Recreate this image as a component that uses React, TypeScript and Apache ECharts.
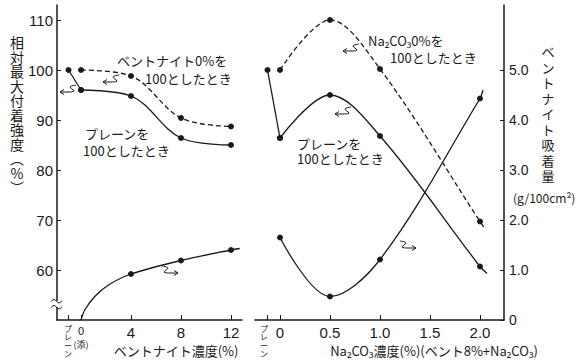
import React, { useEffect, useRef } from "react";
import * as echarts from "echarts";

// ---------- Left panel: bentonite concentration (%) ; -1 = plain ----------
const bentPlainX = [-1, 0];
const bentPlainY = [100, 96];
const bentRelPlainX = [0, 4, 8, 12];
const bentRelPlainY = [96, 94.8, 86.4, 85];
const bentRelZeroX = [0, 4, 8, 12];
const bentRelZeroY = [100, 98.8, 90.4, 88.7];
const bentAbsX = [0, 0.3, 1.1, 2.2, 4, 8, 12, 12.7];
const bentAbsY = [0, 0.2, 0.47, 0.7, 0.92, 1.19, 1.4, 1.43];
const bentAbsMark = [false, false, false, false, true, true, true, false];

// ---------- Right panel: Na2CO3 concentration (%) ; -0.125 = plain ----------
const naPlainX = [-0.125, 0];
const naPlainY = [100, 86.4];
const naRelPlainX = [0, 0.5, 1.0, 2.0, 2.07];
const naRelPlainY = [86.4, 95, 86.8, 60.7, 59.3];
const naRelPlainMark = [true, true, true, true, false];
const naRelZeroX = [0, 0.5, 1.0, 2.0, 2.05];
const naRelZeroY = [100, 110, 100.2, 69.7, 68.2];
const naRelZeroMark = [true, true, true, true, false];
const naAbsX = [0, 0.5, 1.0, 2.0, 2.03];
const naAbsY = [1.65, 0.47, 1.21, 4.43, 4.6];
const naAbsMark = [true, true, true, true, false];

// ---------- ticks ----------
const leftXTicks = [-1, 0, 4, 8, 12];
const rightXTicks = [-0.125, 0, 0.5, 1.0, 1.5, 2.0];
const rightXTickLabels = ["", "0", "0.5", "1.0", "1.5", "2.0"];
const strengthTicks = [60, 70, 80, 90, 100, 110];
const absorbTicks = [0, 1, 2, 3, 4, 5];
const absorbTickLabels = ["0", "1.0", "2.0", "3.0", "4.0", "5.0"];

const CJK = '"Noto Sans CJK JP", "Noto Sans", sans-serif';
const NUM = '"Liberation Sans", "DejaVu Sans", sans-serif';
const INK = "#1a1a1a";

function pts(xs: number[], ys: number[], marks?: boolean[]) {
  return xs.map((x, i) => ({
    value: [x, ys[i]],
    symbol: marks ? (marks[i] ? "circle" : "none") : "circle",
  }));
}

function lineSeries(xi: number, yi: number, data: any[], smooth: number | boolean, dashed = false) {
  return {
    type: "line",
    xAxisIndex: xi,
    yAxisIndex: yi,
    data,
    smooth,
    symbol: "circle",
    symbolSize: 6,
    showSymbol: true,
    lineStyle: { color: INK, width: 1.3, type: dashed ? [5, 3] : "solid" },
    itemStyle: { color: INK },
    z: 3,
  };
}

// squiggle arrow annotation (axis pointer)
function arrow(x: number, y: number, dir: "left" | "right") {
  const s = dir === "left" ? 1 : -1;
  const ls = { stroke: INK, lineWidth: 1, fill: null };
  return {
    type: "group",
    x,
    y,
    children: [
      { type: "polyline", shape: { points: [[0, 0], [s * 9, 0]] }, style: ls },
      { type: "polyline", shape: { points: [[s * 4, -2.5], [0, 0], [s * 4, 2.5]] }, style: ls },
      {
        type: "polyline",
        shape: { points: [[s * 9, 0], [s * 14, -1], [s * 10, -5], [s * 16, -7]], smooth: 0.4 },
        style: ls,
      },
    ],
  };
}

function vtext(text: string, x: number, y: number, size: number, lh: number) {
  return {
    type: "text",
    x,
    y,
    style: {
      text: Array.from(text).join("\n"),
      font: `${size}px ${CJK}`,
      fill: INK,
      textAlign: "center",
      textVerticalAlign: "top",
      lineHeight: lh,
    },
  };
}

function htext(text: string, x: number, y: number, size = 13, align = "left") {
  return {
    type: "text",
    x,
    y,
    style: {
      text,
      font: `${size}px ${CJK}`,
      fill: INK,
      textAlign: align,
      textVerticalAlign: "middle",
    },
  };
}

export default function App() {
  const ref = useRef<HTMLDivElement>(null);
  useEffect(() => {
    if (!ref.current) return;
    const chart = echarts.init(ref.current, undefined, { renderer: "svg" });
    const axisLine = { show: true, onZero: false, lineStyle: { color: INK, width: 1.5 } };
    const option: any = {
      animation: false,
      backgroundColor: "#fff",
      grid: [
        { left: 57, top: 5, width: 185, height: 315 },
        { left: 255, top: 5, width: 249, height: 315 },
      ],
      xAxis: [
        {
          type: "value",
          gridIndex: 0,
          min: -1.92,
          max: 12.88,
          axisLine,
          splitLine: { show: false },
          axisTick: { show: true, inside: true, length: 5, customValues: leftXTicks, lineStyle: { color: INK } },
          axisLabel: {
            customValues: leftXTicks,
            margin: 5,
            color: INK,
            fontFamily: NUM,
            fontSize: 15,
            formatter: (v: number) => (v < 0 ? "" : v === 0 ? "{z|0}" : String(v)),
            rich: { z: { fontSize: 11, fontFamily: NUM, color: INK } },
          },
        },
        {
          type: "value",
          gridIndex: 1,
          min: -0.25,
          max: 2.24,
          axisLine,
          splitLine: { show: false },
          axisTick: { show: true, inside: true, length: 5, customValues: rightXTicks, lineStyle: { color: INK } },
          axisLabel: {
            customValues: rightXTicks,
            margin: 5,
            color: INK,
            fontFamily: NUM,
            fontSize: 15,
            formatter: (v: number) => {
              const i = rightXTicks.indexOf(v);
              return i >= 0 ? rightXTickLabels[i] : "";
            },
          },
        },
      ],
      yAxis: [
        {
          type: "value",
          gridIndex: 0,
          position: "left",
          min: 50,
          max: 113,
          axisLine,
          splitLine: { show: false },
          axisTick: { show: true, inside: true, length: 4, customValues: strengthTicks, lineStyle: { color: INK } },
          axisLabel: { customValues: strengthTicks, margin: 4, color: INK, fontFamily: NUM, fontSize: 15 },
        },
        { type: "value", gridIndex: 0, min: 0, max: 6.3, show: false },
        { type: "value", gridIndex: 1, min: 50, max: 113, show: false },
        {
          type: "value",
          gridIndex: 1,
          position: "right",
          min: 0,
          max: 6.3,
          axisLine,
          splitLine: { show: false },
          axisTick: { show: true, inside: true, length: 4, customValues: absorbTicks, lineStyle: { color: INK } },
          axisLabel: {
            customValues: absorbTicks,
            margin: 5,
            color: INK,
            fontFamily: NUM,
            fontSize: 14,
            formatter: (v: number) => {
              const i = absorbTicks.indexOf(v);
              return i >= 0 ? absorbTickLabels[i] : "";
            },
          },
        },
      ],
      series: [
        lineSeries(0, 0, pts(bentPlainX, bentPlainY), false),
        lineSeries(0, 0, pts(bentRelPlainX, bentRelPlainY), 0.35),
        lineSeries(0, 0, pts(bentRelZeroX, bentRelZeroY), 0.35, true),
        lineSeries(0, 1, pts(bentAbsX, bentAbsY, bentAbsMark), 0.3),
        lineSeries(1, 2, pts(naPlainX, naPlainY), false),
        lineSeries(1, 2, pts(naRelPlainX, naRelPlainY, naRelPlainMark), 0.35),
        lineSeries(1, 2, pts(naRelZeroX, naRelZeroY, naRelZeroMark), 0.35, true),
        lineSeries(1, 3, pts(naAbsX, naAbsY, naAbsMark), 0.35),
      ],
      graphic: [
        // axis titles
        vtext("相対最大付着強度︵%︶", 17, 35, 14, 14.5),
        vtext("ベントナイト吸着量", 548, 44, 13, 15.5),
        htext("(g/100cm²)", 513, 197, 12),
        htext("ベントナイト濃度(%)", 176, 350, 13, "center"),
        htext("Na₂CO₃濃度(%)(ベント8%+Na₂CO₃)", 434, 350, 13, "center"),
        // "plain" tick labels and the 0 sub-label
        vtext("プレーン", 68, 324, 8, 8.5),
        vtext("プレーン", 264, 324, 8, 8.5),
        htext("(添)", 81, 344, 9, "center"),
        // in-plot annotations
        htext("ベントナイト0%を", 117, 60, 13),
        htext("100としたとき", 145, 78, 13),
        htext("プレーンを", 85, 133, 13),
        htext("100としたとき", 83, 150, 13),
        htext("Na₂CO₃0%を", 368, 40, 13),
        htext("100としたとき", 390, 57, 13),
        htext("プレーンを", 297, 143, 13),
        htext("100としたとき", 297, 158, 13),
        // arrows
        arrow(60, 92, "left"),
        arrow(103, 82, "left"),
        arrow(178, 273, "right"),
        arrow(343, 51, "left"),
        arrow(335, 114, "left"),
        arrow(416, 248, "right"),
        // axis break on left y axis
        { type: "rect", shape: { x: 54, y: 301, width: 7, height: 6 }, style: { fill: "#fff" }, z: 10 },
        {
          type: "polyline",
          shape: { points: [[51, 302], [54, 299.5], [59, 303], [62, 300.5]], smooth: 0.5 },
          style: { stroke: INK, lineWidth: 1, fill: null },
          z: 11,
        },
        {
          type: "polyline",
          shape: { points: [[51, 308], [54, 305.5], [59, 309], [62, 306.5]], smooth: 0.5 },
          style: { stroke: INK, lineWidth: 1, fill: null },
          z: 11,
        },
      ],
    };
    chart.setOption(option);
    return () => chart.dispose();
  }, []);
  return <div ref={ref} style={{ width: 579, height: 361, position: "absolute", left: 0, top: 0 }} />;
}
